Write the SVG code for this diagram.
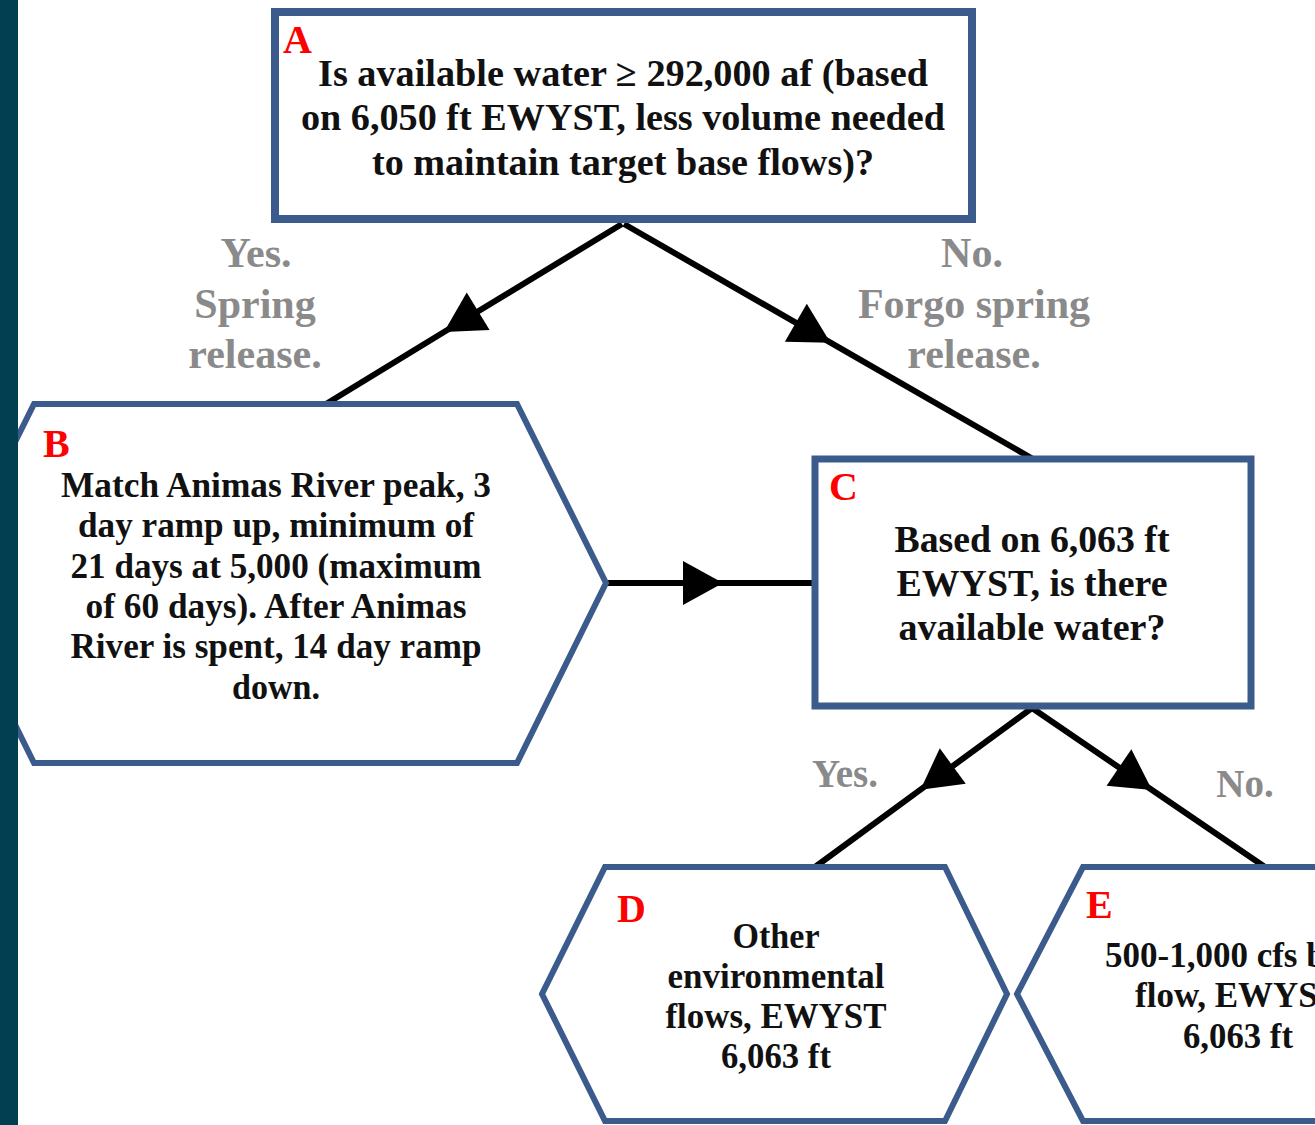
<svg xmlns="http://www.w3.org/2000/svg" width="1315" height="1125" viewBox="0 0 1315 1125">
<style>
.box{fill:#ffffff;stroke:#3b5b8c;stroke-linejoin:miter}
.t{font-family:"Liberation Serif","Times New Roman",serif;font-weight:bold;fill:#111111;text-anchor:middle}
.id{font-family:"Liberation Serif","Times New Roman",serif;font-weight:bold;fill:#ff0000;font-size:40px}
.lbl{font-family:"Liberation Serif","Times New Roman",serif;font-weight:bold;fill:#8a8a8a;text-anchor:middle}
.edge{fill:none;stroke:#000000;stroke-width:6;marker-mid:url(#ah)}
</style>
<defs>
<marker id="ah" markerUnits="userSpaceOnUse" markerWidth="44" markerHeight="48" viewBox="-42 -24 44 48" refX="0" refY="0" orient="auto">
<path d="M0,0 L-40,-22 L-40,22 Z" fill="#000000"/>
</marker>
</defs>
<rect x="0" y="0" width="1315" height="1125" fill="#ffffff"/>

<g id="connectors">
<path class="edge" d="M622,224 L444,332 L326,404"/>
<path class="edge" d="M624,224 L830.5,342.7 L1033,459"/>
<path class="edge" d="M606,583 L723,583 L812,583"/>
<path class="edge" d="M1032,708 L920.5,789.7 L815,867"/>
<path class="edge" d="M1032,708 L1152,790 L1265,867"/>
</g>

<g id="node-A">
<rect class="box" x="275" y="12" width="697" height="207" stroke-width="8"/>
<text class="id" x="283" y="53">A</text>
<text class="t" font-size="38" x="623" y="86" textLength="610" lengthAdjust="spacingAndGlyphs">Is available water ≥ 292,000 af (based</text>
<text class="t" font-size="38" x="623" y="130" textLength="644" lengthAdjust="spacingAndGlyphs">on 6,050 ft EWYST, less volume needed</text>
<text class="t" font-size="38" x="623" y="175" textLength="502" lengthAdjust="spacingAndGlyphs">to maintain target base flows)?</text>
</g>

<g id="node-B">
<polygon class="box" stroke-width="6" points="34,404 517,404 606,583 517,763 34,763 -55,583"/>
<text class="id" x="43" y="457">B</text>
<text class="t" font-size="35" x="276" y="497" textLength="430" lengthAdjust="spacingAndGlyphs">Match Animas River peak, 3</text>
<text class="t" font-size="35" x="276" y="537" textLength="396" lengthAdjust="spacingAndGlyphs">day ramp up, minimum of</text>
<text class="t" font-size="35" x="276" y="578" textLength="411" lengthAdjust="spacingAndGlyphs">21 days at 5,000 (maximum</text>
<text class="t" font-size="35" x="276" y="618" textLength="381" lengthAdjust="spacingAndGlyphs">of 60 days). After Animas</text>
<text class="t" font-size="35" x="276" y="658" textLength="411" lengthAdjust="spacingAndGlyphs">River is spent, 14 day ramp</text>
<text class="t" font-size="35" x="276" y="699" textLength="88" lengthAdjust="spacingAndGlyphs">down.</text>
</g>

<g id="node-C">
<rect class="box" x="815" y="459" width="436" height="247" stroke-width="7"/>
<text class="id" x="829" y="500">C</text>
<text class="t" font-size="37.5" x="1032" y="552" textLength="275" lengthAdjust="spacingAndGlyphs">Based on 6,063 ft</text>
<text class="t" font-size="37.5" x="1032" y="596" textLength="271" lengthAdjust="spacingAndGlyphs">EWYST, is there</text>
<text class="t" font-size="37.5" x="1032" y="640" textLength="267" lengthAdjust="spacingAndGlyphs">available water?</text>
</g>

<g id="node-D">
<polygon class="box" stroke-width="6" points="605,867 945,867 1007,994 945,1121 605,1121 542,994"/>
<text class="id" x="617" y="922">D</text>
<text class="t" font-size="35" x="776" y="948" textLength="87" lengthAdjust="spacingAndGlyphs">Other</text>
<text class="t" font-size="35" x="776" y="988" textLength="217" lengthAdjust="spacingAndGlyphs">environmental</text>
<text class="t" font-size="35" x="776" y="1028" textLength="221" lengthAdjust="spacingAndGlyphs">flows, EWYST</text>
<text class="t" font-size="35" x="776" y="1068" textLength="110" lengthAdjust="spacingAndGlyphs">6,063 ft</text>
</g>

<g id="node-E">
<polygon class="box" stroke-width="6" points="1083,867 1400,867 1460,994 1400,1121 1083,1121 1017,994"/>
<text class="id" x="1086" y="918">E</text>
<text class="t" font-size="35" x="1105" y="967" style="text-anchor:start">500-1,000 cfs b</text>
<text class="t" font-size="35" x="1135" y="1007" style="text-anchor:start">flow, EWYS</text>
<text class="t" font-size="35" x="1238" y="1048" textLength="110" lengthAdjust="spacingAndGlyphs">6,063 ft</text>
</g>

<g id="edge-labels">
<text class="lbl" font-size="42" x="256" y="267">Yes.</text>
<text class="lbl" font-size="42" x="255" y="318">Spring</text>
<text class="lbl" font-size="42" x="255" y="368">release.</text>
<text class="lbl" font-size="42" x="972" y="267">No.</text>
<text class="lbl" font-size="42" x="974" y="318">Forgo spring</text>
<text class="lbl" font-size="42" x="974" y="368">release.</text>
<text class="lbl" font-size="39" x="845" y="787">Yes.</text>
<text class="lbl" font-size="39" x="1245" y="797">No.</text>
</g>

<rect id="side-band" x="0" y="0" width="18" height="1125" fill="#023f51"/>
</svg>
